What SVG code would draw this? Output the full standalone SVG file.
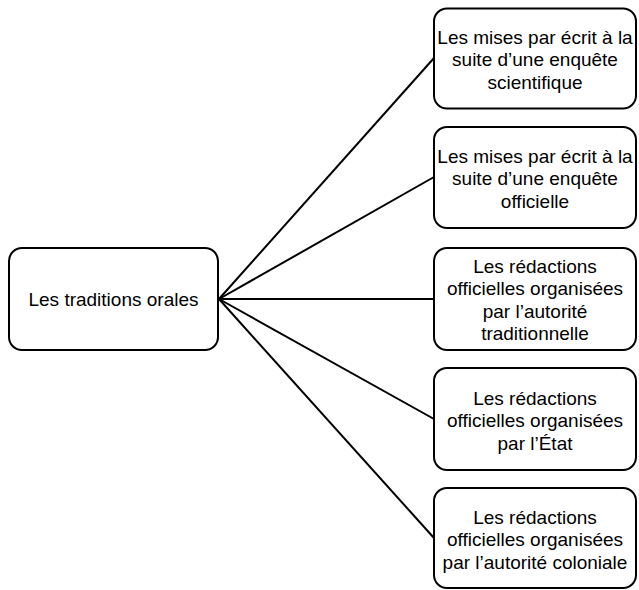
<svg xmlns="http://www.w3.org/2000/svg" width="639" height="590" viewBox="0 0 639 590">
<style>
.box{fill:#fff;stroke:#000;stroke-width:2}
.t{font-family:"Liberation Sans",Arial,sans-serif;font-size:19px;fill:#000;text-anchor:middle}
.c{stroke:#000;stroke-width:2;fill:none}
</style>
<rect width="639" height="590" fill="#fff"/>
<g id="connectors">
<line class="c" x1="219" y1="299" x2="434" y2="58"/>
<line class="c" x1="219" y1="299" x2="434" y2="177"/>
<line class="c" x1="219" y1="299" x2="434" y2="299"/>
<line class="c" x1="219" y1="299" x2="434" y2="419"/>
<line class="c" x1="219" y1="299" x2="434" y2="538"/>
</g>
<g id="root">
<rect class="box" x="9" y="248" width="209" height="102" rx="13"/>
<text class="t" x="113.5" y="306">Les traditions orales</text>
</g>
<g id="n1">
<rect class="box" x="434" y="8.5" width="202" height="100" rx="13"/>
<text class="t" x="535" y="43.5">Les mises par écrit à la</text>
<text class="t" x="535" y="66">suite d’une enquête</text>
<text class="t" x="535" y="88.5">scientifique</text>
</g>
<g id="n2">
<rect class="box" x="434" y="127" width="202" height="101" rx="13"/>
<text class="t" x="535" y="162.5">Les mises par écrit à la</text>
<text class="t" x="535" y="185">suite d’une enquête</text>
<text class="t" x="535" y="207.5">officielle</text>
</g>
<g id="n3">
<rect class="box" x="434" y="248" width="202" height="102" rx="13"/>
<text class="t" x="535" y="272.5">Les rédactions</text>
<text class="t" x="535" y="295">officielles organisées</text>
<text class="t" x="535" y="317.5">par l’autorité</text>
<text class="t" x="535" y="340">traditionnelle</text>
</g>
<g id="n4">
<rect class="box" x="434" y="368" width="202" height="102" rx="13"/>
<text class="t" x="535" y="404.5">Les rédactions</text>
<text class="t" x="535" y="427">officielles organisées</text>
<text class="t" x="535" y="449.5">par l’État</text>
</g>
<g id="n5">
<rect class="box" x="434" y="488" width="202" height="100" rx="13"/>
<text class="t" x="535" y="523.5">Les rédactions</text>
<text class="t" x="535" y="546">officielles organisées</text>
<text class="t" x="535" y="568.5">par l’autorité coloniale</text>
</g>
</svg>
